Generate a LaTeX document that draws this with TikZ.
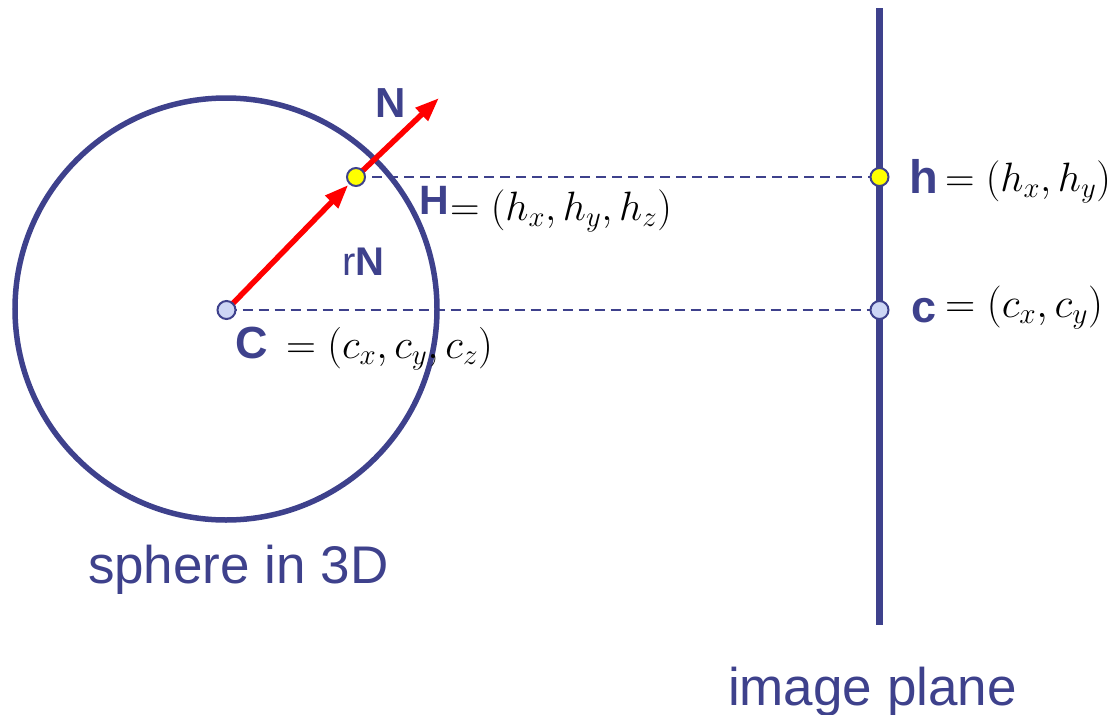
\RequirePackage{fix-cm}
\documentclass[tikz,border=0pt]{standalone}
\usepackage[no-math]{fontspec}
\newfontfamily\arial{Liberation Sans}
\usetikzlibrary{arrows.meta}
\definecolor{dblue}{RGB}{62,65,140}
\definecolor{lblue}{RGB}{205,214,245}
\definecolor{pyellow}{RGB}{255,255,0}
\definecolor{pred}{RGB}{255,0,0}
\newcommand{\fs}[1]{\fontsize{#1}{#1}\selectfont}
\tikzset{
  pt/.style={circle, draw=dblue, line width=2pt, inner sep=0pt, minimum size=18pt},
  dashln/.style={draw=dblue, line width=2.2pt, dash pattern=on 10pt off 6pt},
  redarrow/.style={draw=pred, line width=5.5pt, -{Triangle[length=24pt,width=17pt]}},
  lbl/.style={inner sep=0pt, outer sep=0pt, anchor=base west, text=dblue},
  mlbl/.style={inner sep=0pt, outer sep=0pt, anchor=base west, text=black},
}
\begin{document}
\begin{tikzpicture}[x=1pt,y=-1pt]
\useasboundingbox (0,0) rectangle (1117,715);
% sphere
\draw[dblue, line width=5.5pt] (226,309) circle[radius=211];
% image plane
\coordinate (Ptop) at (879.5,8);
\coordinate (Pbot) at (879.5,625);
\draw[dblue, line width=7pt] (Ptop) -- (Pbot);
% point positions
\coordinate (Cc) at (226.5,310);
\coordinate (Hc) at (356,177);
\coordinate (hc) at (879.5,177);
\coordinate (cc) at (879.5,310);
\coordinate (Ntip) at (439,98);
% dashed projections
\draw[dashln] (Hc) -- (hc);
\draw[dashln] (Cc) -- (cc);
% red arrows
\draw[redarrow] (Hc) -- (Ntip);
\node[pt, minimum size=20pt, draw=none] (Hbox) at (Hc) {};
\draw[redarrow] (Cc) -- (Hbox);
% points
\node[pt, fill=lblue] (C) at (Cc) {};
\node[pt, fill=pyellow] (H) at (Hc) {};
\node[pt, fill=pyellow] (h) at (hc) {};
\node[pt, fill=lblue] (c) at (cc) {};
% labels
\node[lbl, font=\arial\bfseries\fs{42}, anchor=center] (Nlab) at (391,103) {N};
\node[lbl, font=\arial\fs{40}] (rNlab) at (342,275) {r\textbf{N}};
\node[lbl, font=\arial\bfseries\fs{41}] (Hlab) at (419,214) {H};
\node[mlbl, font=\fs{41}] (Heq) at (450,220) {$=(h_x,h_y,h_z)$};
\node[lbl, font=\arial\bfseries\fs{45}] (Clab) at (235,358) {C};
\node[mlbl, font=\fs{41.5}] (Ceq) at (286,358) {$=(c_x,c_y,c_z)$};
\node[lbl, font=\arial\bfseries\fs{47}] (hlab) at (909,193) {h};
\node[mlbl, font=\fs{41}] (heq) at (945,191) {$=(h_x,h_y)$};
\node[lbl, font=\arial\bfseries\fs{45}] (clab) at (911,322) {c};
\node[mlbl, font=\fs{42}] (ceq) at (945,317) {$=(c_x,c_y)$};
\node[lbl, font=\arial\fs{53}] (sph) at (88,583) {sphere in 3D};
\node[lbl, font=\arial\fs{53}] (ipl) at (728,705) {image plane};
\end{tikzpicture}
\end{document}
